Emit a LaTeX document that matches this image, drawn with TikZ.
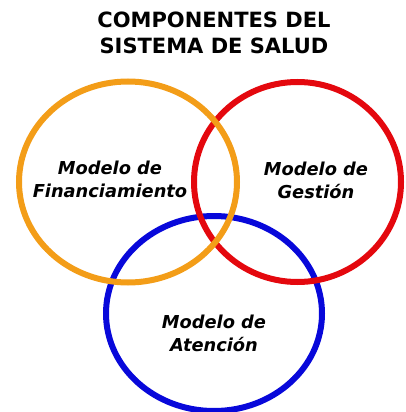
\documentclass[tikz,border=0pt]{standalone}
\usepackage{fontspec}
\setmainfont{DejaVu Sans}
\definecolor{cOrange}{RGB}{243,157,24}
\definecolor{cRed}{RGB}{228,8,14}
\definecolor{cBlue}{RGB}{8,8,218}
\begin{document}
\begin{tikzpicture}[x=1pt,y=-1pt,
  ring/.style={line width=6pt},
  title/.style={font=\bfseries\fontsize{21}{25}\selectfont, align=center, text=black},
  lbl/.style={font=\bfseries\itshape\fontsize{17.8}{22.5}\selectfont, align=center, text=black, inner sep=0pt}]
\useasboundingbox (0,0) rectangle (406,412);
\draw[ring, cBlue] (214,313.5) ellipse [x radius=108, y radius=97.5];
\draw[ring, cRed] (297.5,182) ellipse [x radius=103.5, y radius=100];
\draw[ring, cOrange] (128,182) ellipse [x radius=109, y radius=100.5];
\node[title, anchor=base] (t) at (214,53) {COMPONENTES DEL\\SISTEMA DE SALUD};
\node[lbl, anchor=base] (f) at (110,197) {Modelo de\\Financiamiento};
\node[lbl, anchor=base] (g) at (316,198) {Modelo de\\Gestión};
\node[lbl, anchor=base] (a) at (214,351) {Modelo de\\Atención};
\end{tikzpicture}
\end{document}
